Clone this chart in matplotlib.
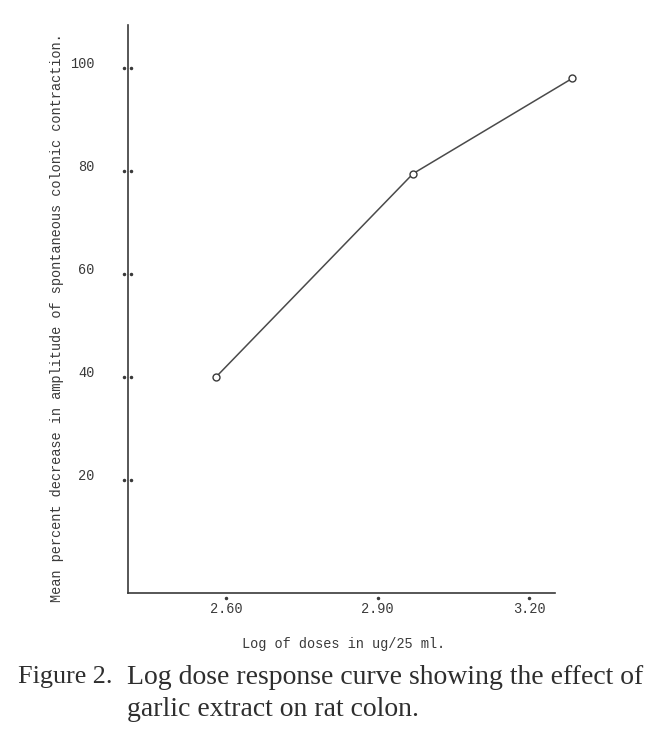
import matplotlib
matplotlib.use("Agg")
import matplotlib.pyplot as plt
import matplotlib.transforms as mtransforms

# data
log_dose = [2.58, 2.97, 3.285]
pct_decrease = [40, 79.5, 98]

x_ticks = [2.60, 2.90, 3.20]
x_tick_labels = ["2.60", "2.90", "3.20"]
y_ticks = [20, 40, 60, 80, 100]
y_tick_labels = ["20", "40", "60", "80", "100"]

mono = "Liberation Mono"
ink = "#3a3a3a"

fig = plt.figure(figsize=(6.5, 7.3), dpi=100)
ax = fig.add_axes([0.197, 0.188, 0.657, 0.778])

ax.plot(log_dose, pct_decrease, color="#4a4a4a", lw=1.1, marker="o", ms=5,
        mfc="white", mec=ink, mew=1.0, clip_on=False, zorder=3)

ax.set_xlim(2.406, 3.251)
ax.set_ylim(-1.9, 108.4)

for side in ["top", "right"]:
    ax.spines[side].set_visible(False)
for side in ["left", "bottom"]:
    ax.spines[side].set_color(ink)
    ax.spines[side].set_linewidth(1.2)

# ticks drawn as small dots like the typed original
ax.set_xticks(x_ticks)
ax.set_xticklabels(x_tick_labels, fontfamily=mono, fontsize=9.8, color=ink)
ax.set_yticks(y_ticks)
ax.set_yticklabels(y_tick_labels, fontfamily=mono, fontsize=9.8, color=ink)
ax.tick_params(axis="x", length=0, pad=7)
ax.tick_params(axis="y", length=0, pad=24)
# typed numbers sit a little above their dots
lift = mtransforms.ScaledTranslation(0, 4 / 72, fig.dpi_scale_trans)
for lbl in ax.get_yticklabels():
    lbl.set_transform(lbl.get_transform() + lift)

xt = ax.get_xaxis_transform()
ax.plot(x_ticks, [-0.010] * len(x_ticks), ls="none", marker=".", ms=3,
        color=ink, transform=xt, clip_on=False)
yt = ax.get_yaxis_transform()
ax.plot([-0.010] * len(y_ticks), y_ticks, ls="none", marker=".", ms=3,
        color=ink, transform=yt, clip_on=False)
ax.plot([0.007] * len(y_ticks), y_ticks, ls="none", marker=".", ms=3,
        color=ink, transform=yt, clip_on=False)

ax.set_xlabel("Log of doses in ug/25 ml.", fontfamily=mono, fontsize=9.8,
              color=ink)
ax.xaxis.set_label_coords(0.505, -0.078)
ax.set_ylabel("Mean percent decrease in amplitude of spontaneous colonic contraction.",
              fontfamily=mono, fontsize=9.8, color=ink)
ax.yaxis.set_label_coords(-0.150, 0.485)

# caption below the plot
serif = "Liberation Serif"
cap = "#2e2e2e"
fig.text(0.027, 0.072, "Figure 2.", fontfamily=serif, fontsize=18.8,
         color=cap, va="center")
fig.text(0.195, 0.072, "Log dose response curve showing the effect of",
         fontfamily=serif, fontsize=20, color=cap, va="center")
fig.text(0.195, 0.028, "garlic extract on rat colon.", fontfamily=serif,
         fontsize=20, color=cap, va="center")

fig.savefig("out.png", dpi=100, facecolor="white")
